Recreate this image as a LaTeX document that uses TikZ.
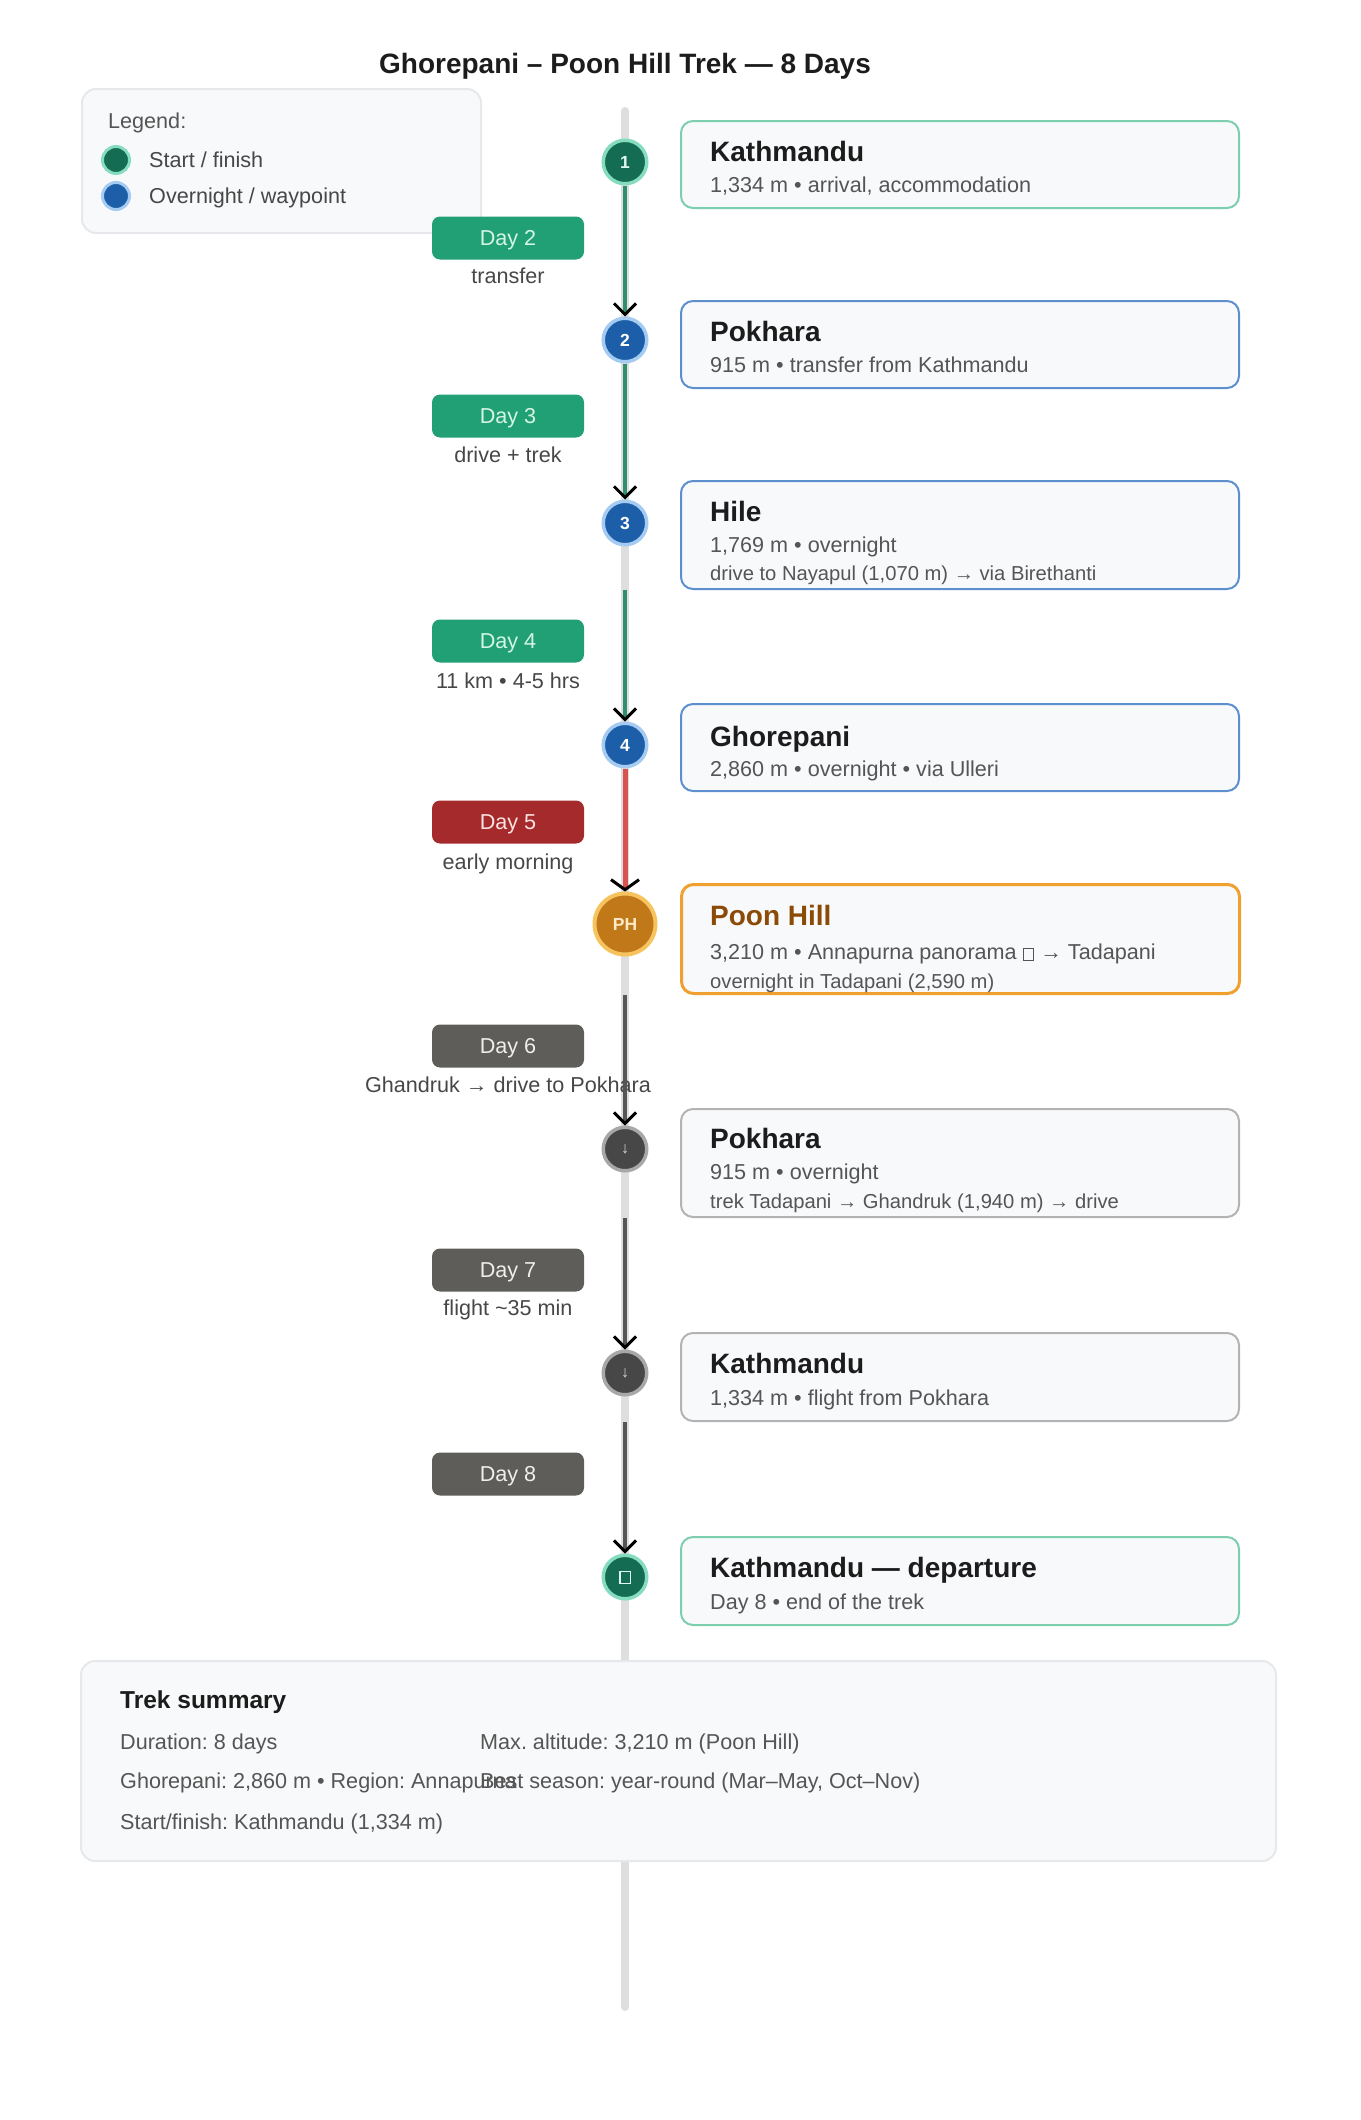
\documentclass[tikz,border=0pt]{standalone}
\usepackage{fontspec}
\setmainfont{Liberation Sans}
\usetikzlibrary{arrows.meta}
\frenchspacing

\definecolor{spinegray}{HTML}{DEDEDE}
\definecolor{panelfill}{HTML}{F8F9FA}
\definecolor{panelline}{HTML}{E6E8EB}
\definecolor{cardfill}{HTML}{F8F9FB}
\definecolor{titleink}{HTML}{1C1C1C}
\definecolor{lineink}{HTML}{555555}
\definecolor{noteink}{HTML}{474747}
\definecolor{startfill}{HTML}{146C52}
\definecolor{startring}{HTML}{86DCBF}
\definecolor{startnum}{HTML}{E2F7EE}
\definecolor{startline}{HTML}{7BCFAF}
\definecolor{wayfill}{HTML}{1C5EA8}
\definecolor{wayring}{HTML}{A6CBF2}
\definecolor{wayline}{HTML}{5D8FCF}
\definecolor{peakfill}{HTML}{C07818}
\definecolor{peakring}{HTML}{F7C35E}
\definecolor{peaknum}{HTML}{FDEBC8}
\definecolor{peakline}{HTML}{F0A02E}
\definecolor{peakink}{HTML}{8B4A06}
\definecolor{flyfill}{HTML}{474747}
\definecolor{flyring}{HTML}{A8A8A8}
\definecolor{flynum}{HTML}{D8D8D8}
\definecolor{flyline}{HTML}{B3B3B3}
\definecolor{daygreen}{HTML}{21A075}
\definecolor{daygreenink}{HTML}{D5F5E5}
\definecolor{dayred}{HTML}{A42A2B}
\definecolor{dayredink}{HTML}{FDE2E2}
\definecolor{daygray}{HTML}{5E5D59}
\definecolor{daygrayink}{HTML}{EEEEEE}
\definecolor{greentrail}{HTML}{2F8E6C}
\definecolor{redtrail}{HTML}{D9534F}
\definecolor{graytrail}{HTML}{555555}

\newcommand{\pxsize}[1]{\fontsize{#1}{#1}\selectfont}
\newcommand{\tofu}{{\setlength{\fboxsep}{0pt}\setlength{\fboxrule}{1.3pt}\fbox{\rule{9pt}{0pt}\rule{0pt}{11pt}}}}

\begin{document}
\begin{tikzpicture}
  [x=1pt,y=-1pt,every node/.style={inner sep=0pt,text depth=0pt},
   stop/.style={circle,minimum size=43.5pt,line width=3.5pt,font=\bfseries\pxsize{17.5}},
   startstop/.style={stop,fill=startfill,draw=startring,text=startnum},
   waystop/.style={stop,fill=wayfill,draw=wayring,text=white},
   peakstop/.style={stop,minimum size=61pt,line width=4pt,fill=peakfill,draw=peakring,text=peaknum},
   flystop/.style={stop,fill=flyfill,draw=flyring,text=flynum,font=\pxsize{16}},
   card/.style={anchor=north west,rounded corners=12pt,minimum width=558pt,fill=cardfill,line width=2pt},
   cardtitle/.style={anchor=west,font=\bfseries\pxsize{28},text=titleink},
   cardline/.style={anchor=west,font=\pxsize{21.6},text=lineink},
   cardnote/.style={anchor=west,font=\pxsize{20.2},text=lineink},
   daybadge/.style={rounded corners=8pt,minimum width=152pt,minimum height=43pt,font=\pxsize{21.6}},
   daynote/.style={font=\pxsize{21.6},text=noteink},
   panel/.style={anchor=north west,rounded corners=14pt,fill=panelfill,draw=panelline,line width=2pt},
   greenleg/.style={line width=4pt,draw=greentrail,-{Straight Barb[length=11pt,width=22pt,line width=3pt,color=black]}},
   redleg/.style={line width=5pt,draw=redtrail,-{Straight Barb[length=10pt,width=28pt,line width=3pt,color=black]}},
   grayleg/.style={line width=4pt,draw=graytrail,-{Straight Barb[length=11pt,width=22pt,line width=3pt,color=black]}}]
  \useasboundingbox (0,0) rectangle (1360,2120);

  % spine behind everything
  \coordinate (spinetop) at (625,111);
  \coordinate (spinebottom) at (625,2007);
  \draw [line width=8pt,draw=spinegray,line cap=round] (spinetop) -- (spinebottom);

  \node [font=\bfseries\pxsize{28},text=titleink] (title) at (625,63) {Ghorepani – Poon Hill Trek — 8 Days};

  % legend
  \node [panel,minimum width=399pt,minimum height=144pt] (legend) at (81,88) {};
  \node [anchor=west,font=\pxsize{21.6},text=lineink] (legtitle) at (108,121) {Legend:};
  \node [startstop,minimum size=27pt,line width=3pt] (legstart) at (116,160) {};
  \node [waystop,minimum size=27pt,line width=3pt] (legway) at (116,196) {};
  \node [anchor=west,font=\pxsize{21.6},text=noteink] (legstarttext) at (149,160) {Start / finish};
  \node [anchor=west,font=\pxsize{21.6},text=noteink] (legwaytext) at (149,196) {Overnight / waypoint};

  % summary
  \node [panel,minimum width=1195pt,minimum height=200pt] (summary) at (80,1660) {};
  \node [anchor=west,font=\bfseries\pxsize{24.5},text=titleink] (sumtitle) at (120,1700) {Trek summary};
  \node [cardline] (sumdur) at (120,1742) {Duration: 8 days};
  \node [cardline] (sumgho) at (120,1781) {Ghorepani: 2,860 m • Region: Annapurna};
  \node [cardline] (sumstart) at (120,1822) {Start/finish: Kathmandu (1,334 m)};
  \node [cardline] (summax) at (480,1742) {Max. altitude: 3,210 m (Poon Hill)};
  \node [cardline] (sumseason) at (480,1781) {Best season: year-round (Mar–May, Oct–Nov)};

  % stops
  \node [startstop] (c1) at (625,162) {1};
  \node [waystop] (c2) at (625,340) {2};
  \node [waystop] (c3) at (625,523) {3};
  \node [waystop] (c4) at (625,745) {4};
  \node [peakstop] (c5) at (625,924) {PH};
  \node [flystop] (c6) at (625,1149) {↓};
  \node [flystop] (c7) at (625,1373) {↓};
  \node [startstop,font=\pxsize{16}] (c8) at (625,1577) {\tofu};

  % cards
  \node [card,draw=startline,minimum height=87pt] (b1) at (680,120) {};
  \node [cardtitle] (b1t) at (710,151) {Kathmandu};
  \node [cardline] (b1s) at (710,185) {1,334 m • arrival, accommodation};

  \node [card,draw=wayline,minimum height=87pt] (b2) at (680,300) {};
  \node [cardtitle] (b2t) at (710,331) {Pokhara};
  \node [cardline] (b2s) at (710,365) {915 m • transfer from Kathmandu};

  \node [card,draw=wayline,minimum height=108pt] (b3) at (680,480) {};
  \node [cardtitle] (b3t) at (710,511) {Hile};
  \node [cardline] (b3s) at (710,545) {1,769 m • overnight};
  \node [cardnote] (b3n) at (710,573) {drive to Nayapul (1,070 m) → via Birethanti};

  \node [card,draw=wayline,minimum height=87pt] (b4) at (680,703) {};
  \node [cardtitle] (b4t) at (710,736) {Ghorepani};
  \node [cardline] (b4s) at (710,769) {2,860 m • overnight • via Ulleri};

  \node [card,draw=peakline,line width=3pt,minimum height=109pt] (b5) at (680,883) {};
  \node [cardtitle,text=peakink] (b5t) at (710,915) {Poon Hill};
  \node [cardline] (b5s) at (710,952) {3,210 m • Annapurna panorama \tofu{} → Tadapani};
  \node [cardnote] (b5n) at (710,981) {overnight in Tadapani (2,590 m)};

  \node [card,draw=flyline,minimum height=108pt] (b6) at (680,1108) {};
  \node [cardtitle] (b6t) at (710,1138) {Pokhara};
  \node [cardline] (b6s) at (710,1172) {915 m • overnight};
  \node [cardnote] (b6n) at (710,1201) {trek Tadapani → Ghandruk (1,940 m) → drive};

  \node [card,draw=flyline,minimum height=88pt] (b7) at (680,1332) {};
  \node [cardtitle] (b7t) at (710,1363) {Kathmandu};
  \node [cardline] (b7s) at (710,1398) {1,334 m • flight from Pokhara};

  \node [card,draw=startline,minimum height=88pt] (b8) at (680,1536) {};
  \node [cardtitle] (b8t) at (710,1567) {Kathmandu — departure};
  \node [cardline] (b8s) at (710,1602) {Day 8 • end of the trek};

  % day badges
  \node [daybadge,fill=daygreen,text=daygreenink] (d2) at (508,238) {Day 2};
  \node [daynote] (d2n) at (508,276) {transfer};
  \node [daybadge,fill=daygreen,text=daygreenink] (d3) at (508,416) {Day 3};
  \node [daynote] (d3n) at (508,455) {drive + trek};
  \node [daybadge,fill=daygreen,text=daygreenink] (d4) at (508,641) {Day 4};
  \node [daynote] (d4n) at (508,681) {11 km • 4-5 hrs};
  \node [daybadge,fill=dayred,text=dayredink] (d5) at (508,822) {Day 5};
  \node [daynote] (d5n) at (508,862) {early morning};
  \node [daybadge,fill=daygray,text=daygrayink] (d6) at (508,1046) {Day 6};
  \node [daynote] (d6n) at (508,1085) {Ghandruk → drive to Pokhara};
  \node [daybadge,fill=daygray,text=daygrayink] (d7) at (508,1270) {Day 7};
  \node [daynote] (d7n) at (508,1308) {flight \textasciitilde35 min};
  \node [daybadge,fill=daygray,text=daygrayink] (d8) at (508,1474) {Day 8};

  % legs
  \coordinate (s1) at (c1.south);
  \coordinate (s2) at (c2.south);
  \coordinate (s3) at (c3 |- b3.south);
  \coordinate (s4) at (c4.south);
  \coordinate (s5) at (c5 |- b5.south);
  \coordinate (s6) at (c6 |- b6.south);
  \coordinate (s7) at (c7 |- b7.south);
  \foreach \from/\to/\legstyle in {s1/c2/greenleg,s2/c3/greenleg,s3/c4/greenleg,s4/c5/redleg,s5/c6/grayleg,s6/c7/grayleg,s7/c8/grayleg}
    \draw [\legstyle] (\from) -- (\to);

\end{tikzpicture}
\end{document}
